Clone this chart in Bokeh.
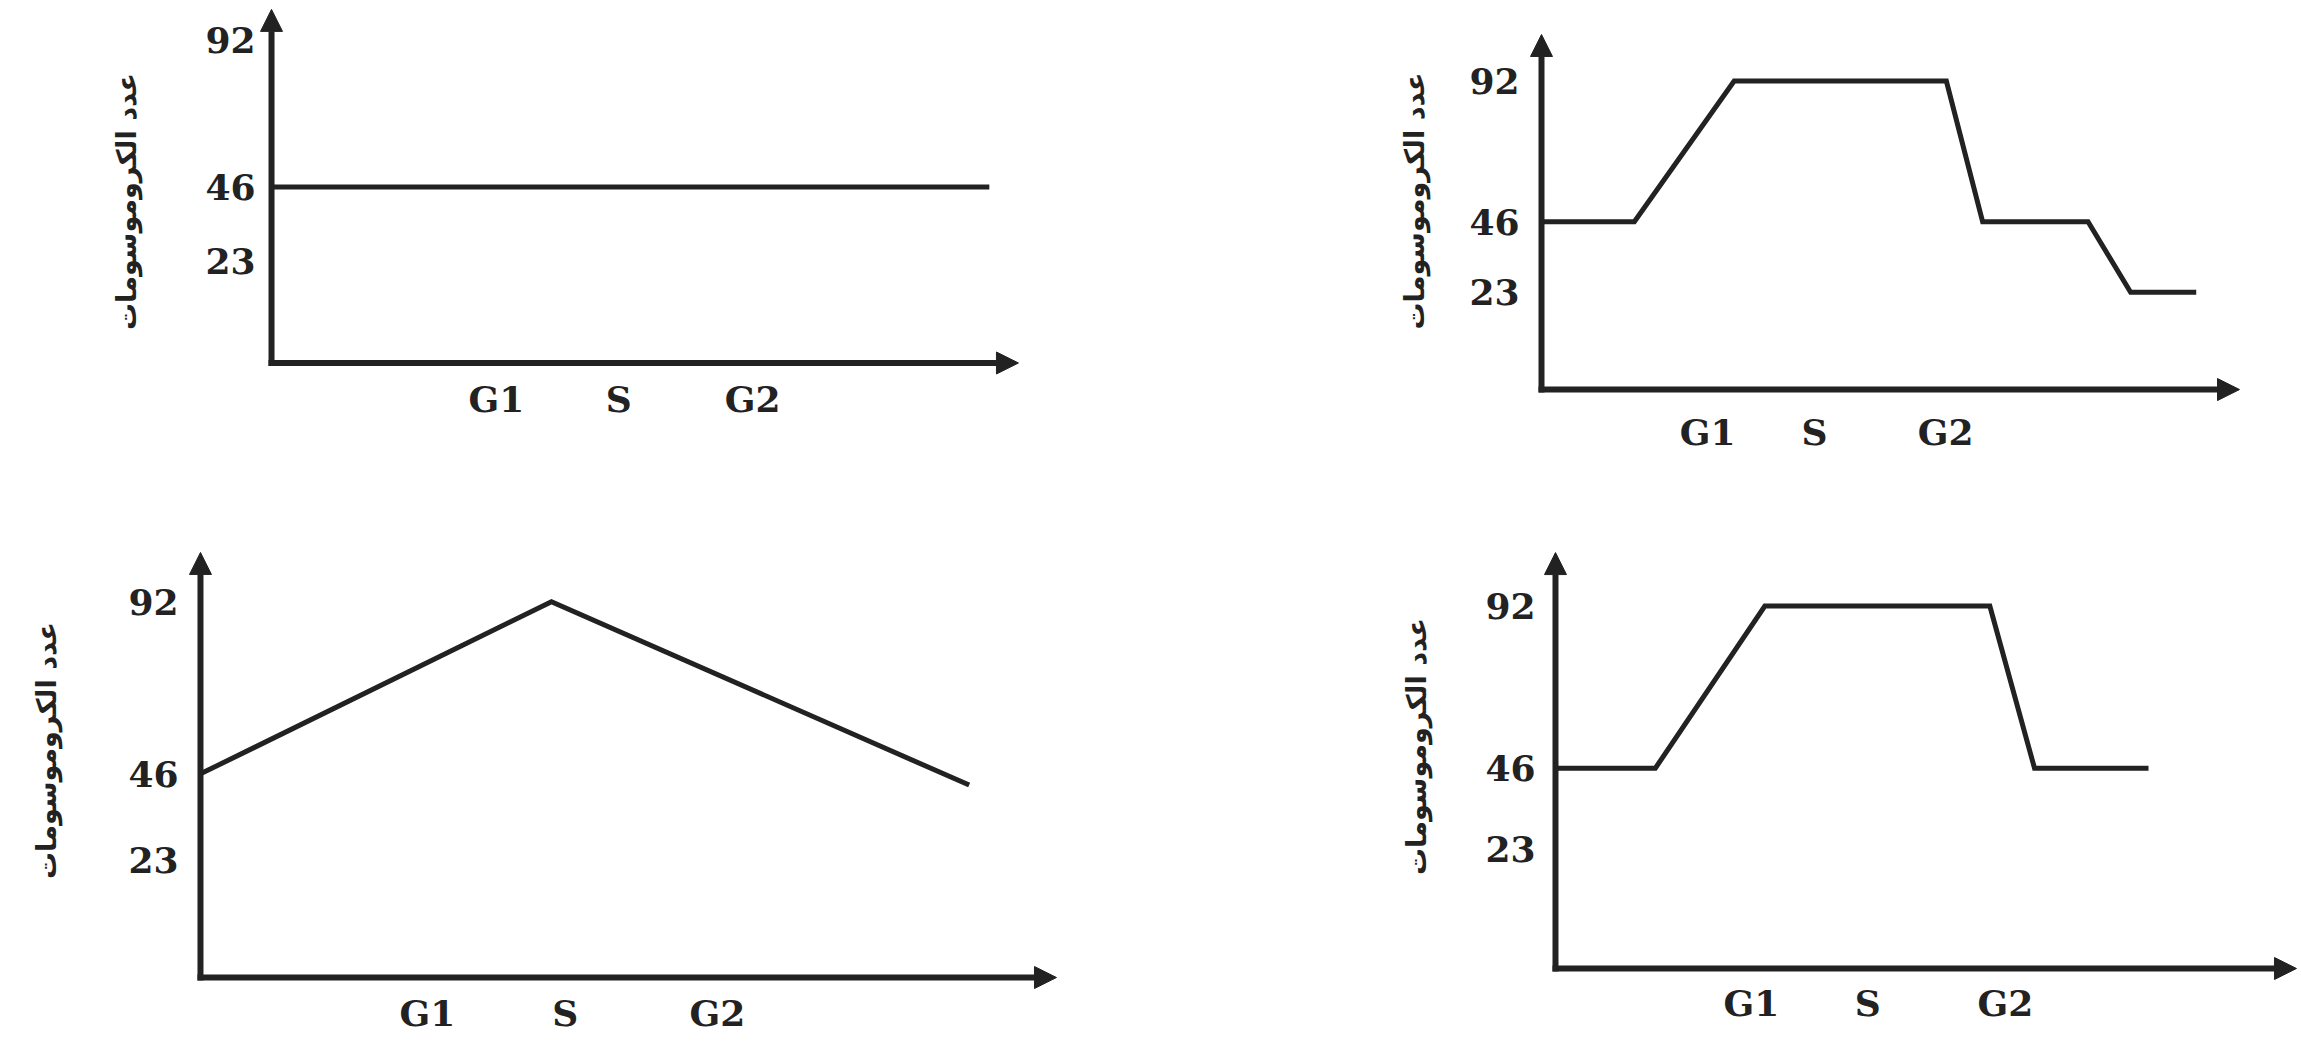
from bokeh.plotting import figure
from bokeh.layouts import column, row
from bokeh.models import Range1d, FixedTicker, Arrow, NormalHead
from bokeh.embed import file_html
from bokeh.resources import INLINE

# ---------------- data ----------------
y_axis_title = "عدد الكروموسومات"
phase_labels = ["G1", "S", "G2"]
count_ticks = [23, 46, 92]

# top-left panel
tl_x = [0, 961]
tl_y = [46, 46]
tl_phase_x = [301, 465, 644]

# top-right panel
tr_x = [0, 133, 276, 580, 632, 783, 844, 938]
tr_y = [46, 46, 92, 92, 46, 46, 23, 23]
tr_phase_x = [238, 391, 579]

# bottom-left panel
bl_x = [0, 410, 898]
bl_y = [46, 92, 43]
bl_phase_x = [265, 426, 604]

# bottom-right panel
br_x = [0, 134, 281, 583, 643, 796]
br_y = [46, 46, 92, 92, 46, 46]
br_phase_x = [263, 419, 604]

INK = "#222222"


def panel(xs, ys, phase_x, size, borders, xr, yr, x_tip, y_axis_at, y_tip,
          x_standoff, y_standoff, label_standoff):
    width, height = size
    left, right, top, bottom = borders
    p = figure(width=width, height=height, title=None, toolbar_location=None,
               output_backend="svg",
               x_range=Range1d(*xr), y_range=Range1d(*yr),
               min_border_left=left, min_border_right=right,
               min_border_top=top, min_border_bottom=bottom)
    p.frame_align = False
    p.outline_line_color = None
    p.grid.visible = False
    p.background_fill_color = "white"
    p.border_fill_color = "white"

    for ax in (p.xaxis[0], p.yaxis[0]):
        ax.axis_line_color = None
        ax.major_tick_line_color = None
        ax.minor_tick_line_color = None
        ax.major_tick_in = 0
        ax.major_tick_out = 0
        ax.major_label_text_font = "DejaVu Serif"
        ax.major_label_text_font_style = "bold"
        ax.major_label_text_font_size = "36px"
        ax.major_label_text_color = INK

    p.xaxis.ticker = FixedTicker(ticks=phase_x)
    p.xaxis.major_label_overrides = {t: lab for t, lab in zip(phase_x, phase_labels)}
    p.xaxis.major_label_standoff = x_standoff

    p.yaxis.ticker = FixedTicker(ticks=count_ticks)
    p.yaxis.major_label_standoff = y_standoff
    p.yaxis.axis_label = y_axis_title
    p.yaxis.axis_label_text_font = "DejaVu Sans"
    p.yaxis.axis_label_text_font_style = "bold"
    p.yaxis.axis_label_text_font_size = "27px"
    p.yaxis.axis_label_text_color = INK
    p.yaxis.axis_label_standoff = label_standoff

    # axis lines with arrow heads (start 3px past the origin to close the corner)
    ux = (xr[1] - xr[0]) / (width - left - right)
    uy = (yr[1] - yr[0]) / (height - top - bottom)
    p.add_layout(Arrow(end=NormalHead(size=22, fill_color=INK, line_color=INK),
                       x_start=-3 * ux, x_end=x_tip, y_start=y_axis_at, y_end=y_axis_at,
                       line_color=INK, line_width=6))
    p.add_layout(Arrow(end=NormalHead(size=22, fill_color=INK, line_color=INK),
                       x_start=0, x_end=0, y_start=y_axis_at - 3 * uy, y_end=y_tip,
                       line_color=INK, line_width=6))

    p.line(xs, ys, line_width=5, line_color=INK, line_join="miter")
    return p


tl = panel(tl_x, tl_y, tl_phase_x, (1290, 490), (259, 268, 6, 94),
           (-16.1, 1005.4), (-19.47, 102.4), 1000, -9.0, 101.5, -19, 4, 60)
tr = panel(tr_x, tr_y, tr_phase_x, (1010, 490), (239, 57, 0, 89),
           (-17.2, 1005.7), (-12.7, 118.3), 1000, -8.8, 107.2, 9, 10, 36)
bl = panel(bl_x, bl_y, bl_phase_x, (1290, 550), (188, 230, 21, 51),
           (-14.0, 1004.7), (-11.62, 116.1), 1000, -8.42, 105.16, 2, 10, 63)
br = panel(br_x, br_y, br_phase_x, (1010, 550), (253, 0, 22, 60),
           (-16.1, 1000.0), (-14.17, 118.5), 994.6, -10.77, 107.14, 1, 8, 50)

layout = column(row(tl, tr), row(bl, br))
open("out.html", "w").write(file_html(layout, INLINE))
